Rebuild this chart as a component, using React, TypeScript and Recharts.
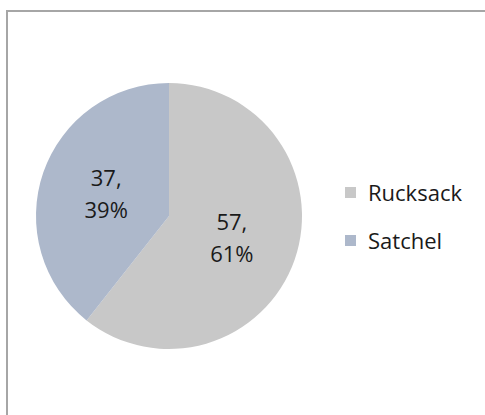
import React from 'react';
import { PieChart, Pie, Cell, Legend } from 'recharts';

const categories = ['Rucksack', 'Satchel'];
const counts = [57, 37];
const percents = [61, 39];
const colors = ['#c8c8c8', '#adb8cb'];

const chartData = categories.map((name, i) => ({
  name,
  value: counts[i],
  pct: percents[i],
  fill: colors[i],
}));

const RAD = Math.PI / 180;
const FONT = '"Open Sans", "Noto Sans", sans-serif';

const renderLabel = (props: any) => {
  const { cx, cy, midAngle, outerRadius, index } = props;
  const r = outerRadius * 0.5;
  const x = cx + r * Math.cos(-midAngle * RAD);
  const y = cy + r * Math.sin(-midAngle * RAD);
  const d = chartData[index];
  return (
    <text textAnchor="middle" fill="#1a1a1a" fontSize={22} fontFamily={FONT}>
      <tspan x={x} y={y - 8}>{d.value},</tspan>
      <tspan x={x} y={y + 24}>{d.pct}%</tspan>
    </text>
  );
};

const LegendContent = () => (
  <div style={{ fontFamily: FONT, fontSize: 22, color: '#1a1a1a' }}>
    {chartData.map((d) => (
      <div key={d.name} style={{ display: 'flex', alignItems: 'center', height: 48 }}>
        <span style={{ width: 11, height: 11, background: d.fill, marginRight: 12, display: 'inline-block' }} />
        <span>{d.name}</span>
      </div>
    ))}
  </div>
);

export default function App() {
  return (
    <div style={{ position: 'absolute', left: 0, top: 0, width: 485, height: 415, overflow: 'hidden', background: '#fff' }}>
      <div
        style={{
          position: 'absolute',
          left: 6,
          top: 10,
          width: 500,
          height: 430,
          border: '2px solid #a6a6a6',
          boxSizing: 'border-box',
        }}
      />
      <div style={{ position: 'absolute', left: 0, top: 0 }}>
        <PieChart width={485} height={415} margin={{ top: 0, right: 0, bottom: 0, left: 0 }}>
          <Pie
            data={chartData}
            dataKey="value"
            nameKey="name"
            cx={169}
            cy={216}
            outerRadius={133}
            startAngle={90}
            endAngle={-270}
            stroke="none"
            label={renderLabel}
            labelLine={false}
            isAnimationActive={false}
          >
            {chartData.map((d) => (
              <Cell key={d.name} fill={d.fill} />
            ))}
          </Pie>
          <Legend
            content={<LegendContent />}
            wrapperStyle={{ position: 'absolute', left: 345, top: 168, width: 140 }}
          />
        </PieChart>
      </div>
    </div>
  );
}
